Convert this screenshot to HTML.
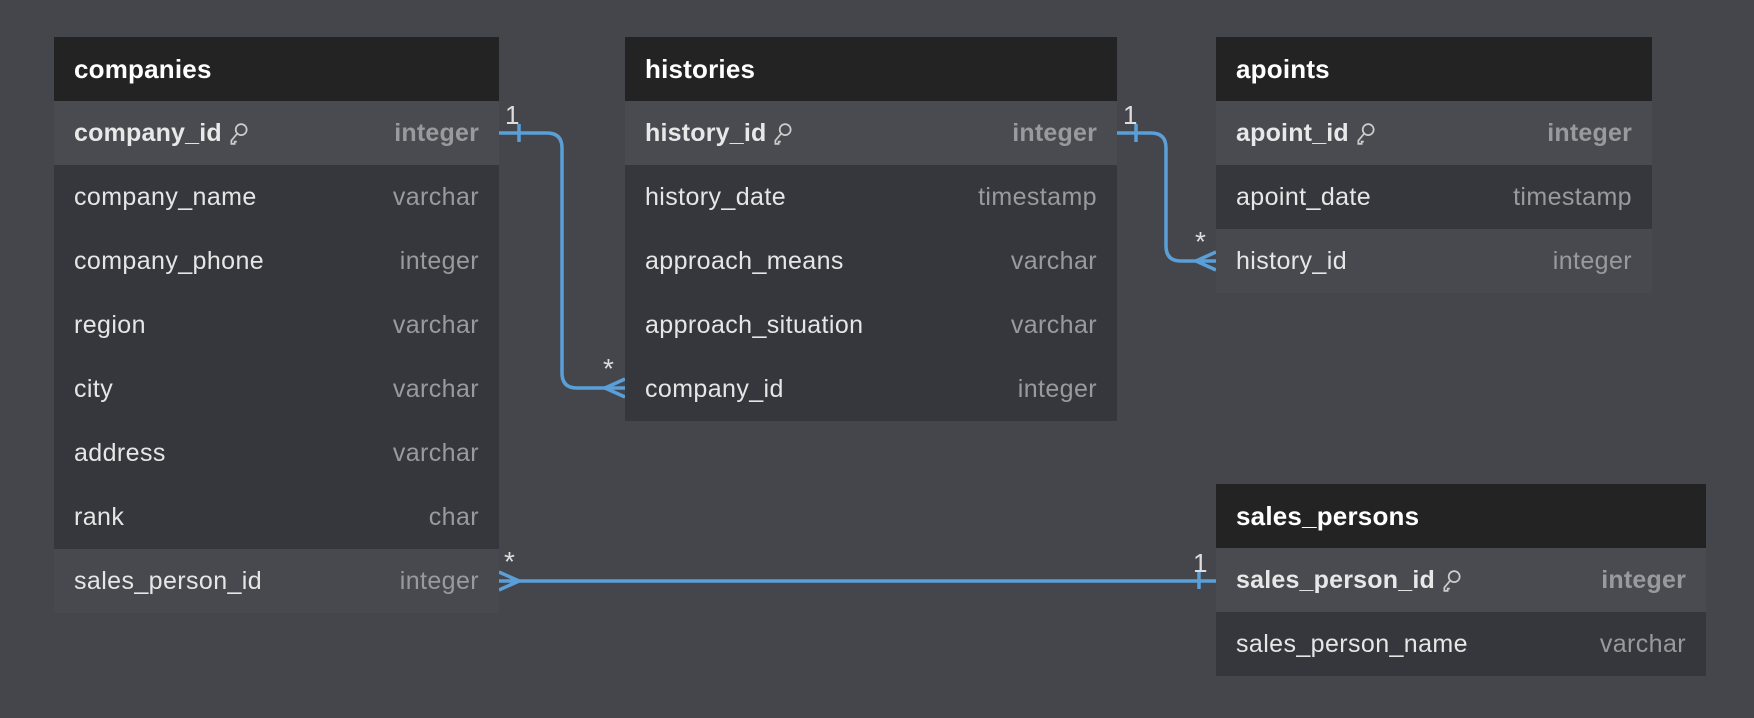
<!DOCTYPE html>
<html><head><meta charset="utf-8"><style>
html,body{margin:0;padding:0}
body{width:1754px;height:718px;background:#45464c;position:relative;overflow:hidden;font-family:"Liberation Sans",sans-serif}
.t{position:absolute;}
.h{height:64px;background:#232323;color:#fff;font-weight:bold;font-size:26px;line-height:64px;padding-left:20px;box-sizing:border-box;letter-spacing:0.2px}
.r{height:64px;background:#36373c;color:#e6e6e6;font-size:25px;line-height:64px;padding:0 20px;box-sizing:border-box;display:flex;justify-content:space-between;letter-spacing:0.4px}
.r span:last-child{color:#9a9a9e}
.pk{background:#4a4b51;font-weight:bold;letter-spacing:0.2px}
.pk span:first-child{color:#e8e8e8}
.fk{background:#48494f}
svg.k{vertical-align:middle;margin-left:6px}
.lb{position:absolute;color:#ddd;font-size:26px}
</style></head><body>
<svg width="1754" height="718" style="position:absolute;left:0;top:0" fill="none" stroke="#5a9fd8" stroke-width="3.5">
<path d="M499 133 H547 Q562 133 562 148 V373 Q562 388 577 388 H625"/>
<path d="M519 124 V142"/>
<path d="M605 388 L625 379 M605 388 L625 397"/>
<path d="M1117 133 H1151 Q1166 133 1166 148 V246 Q1166 261 1181 261 H1216"/>
<path d="M1136 124 V142"/>
<path d="M1196 261 L1216 252 M1196 261 L1216 270"/>
<path d="M499 581 H1216"/>
<path d="M1199 571 V589"/>
<path d="M519 581 L499 572 M519 581 L499 590"/>
</svg>
<div class="lb" style="left:505px;top:100px">1</div>
<div class="lb" style="left:603px;top:353px;font-size:28px">*</div>
<div class="lb" style="left:1123px;top:100px">1</div>
<div class="lb" style="left:1195px;top:226px;font-size:28px">*</div>
<div class="lb" style="left:504px;top:546px;font-size:28px">*</div>
<div class="lb" style="left:1193px;top:548px">1</div>

<div class="t" style="left:54px;top:37px;width:445px">
<div class="h">companies</div>
<div class="r pk"><span>company_id<svg class="k" width="22" height="24" viewBox="0 0 20 22" fill="none" stroke="#ccc" stroke-width="1.6"><circle cx="12" cy="7" r="5"/><path d="M8 11 L3 17 L3 20 L6 20 L6 18 L8 18"/></svg></span><span>integer</span></div>
<div class="r"><span>company_name</span><span>varchar</span></div>
<div class="r"><span>company_phone</span><span>integer</span></div>
<div class="r"><span>region</span><span>varchar</span></div>
<div class="r"><span>city</span><span>varchar</span></div>
<div class="r"><span>address</span><span>varchar</span></div>
<div class="r"><span>rank</span><span>char</span></div>
<div class="r fk"><span>sales_person_id</span><span>integer</span></div>
</div>

<div class="t" style="left:625px;top:37px;width:492px">
<div class="h">histories</div>
<div class="r pk"><span>history_id<svg class="k" width="22" height="24" viewBox="0 0 20 22" fill="none" stroke="#ccc" stroke-width="1.6"><circle cx="12" cy="7" r="5"/><path d="M8 11 L3 17 L3 20 L6 20 L6 18 L8 18"/></svg></span><span>integer</span></div>
<div class="r"><span>history_date</span><span>timestamp</span></div>
<div class="r"><span>approach_means</span><span>varchar</span></div>
<div class="r"><span>approach_situation</span><span>varchar</span></div>
<div class="r"><span>company_id</span><span>integer</span></div>
</div>

<div class="t" style="left:1216px;top:37px;width:436px">
<div class="h">apoints</div>
<div class="r pk"><span>apoint_id<svg class="k" width="22" height="24" viewBox="0 0 20 22" fill="none" stroke="#ccc" stroke-width="1.6"><circle cx="12" cy="7" r="5"/><path d="M8 11 L3 17 L3 20 L6 20 L6 18 L8 18"/></svg></span><span>integer</span></div>
<div class="r"><span>apoint_date</span><span>timestamp</span></div>
<div class="r fk"><span>history_id</span><span>integer</span></div>
</div>

<div class="t" style="left:1216px;top:484px;width:490px">
<div class="h">sales_persons</div>
<div class="r pk"><span>sales_person_id<svg class="k" width="22" height="24" viewBox="0 0 20 22" fill="none" stroke="#ccc" stroke-width="1.6"><circle cx="12" cy="7" r="5"/><path d="M8 11 L3 17 L3 20 L6 20 L6 18 L8 18"/></svg></span><span>integer</span></div>
<div class="r"><span>sales_person_name</span><span>varchar</span></div>
</div>
</body></html>
